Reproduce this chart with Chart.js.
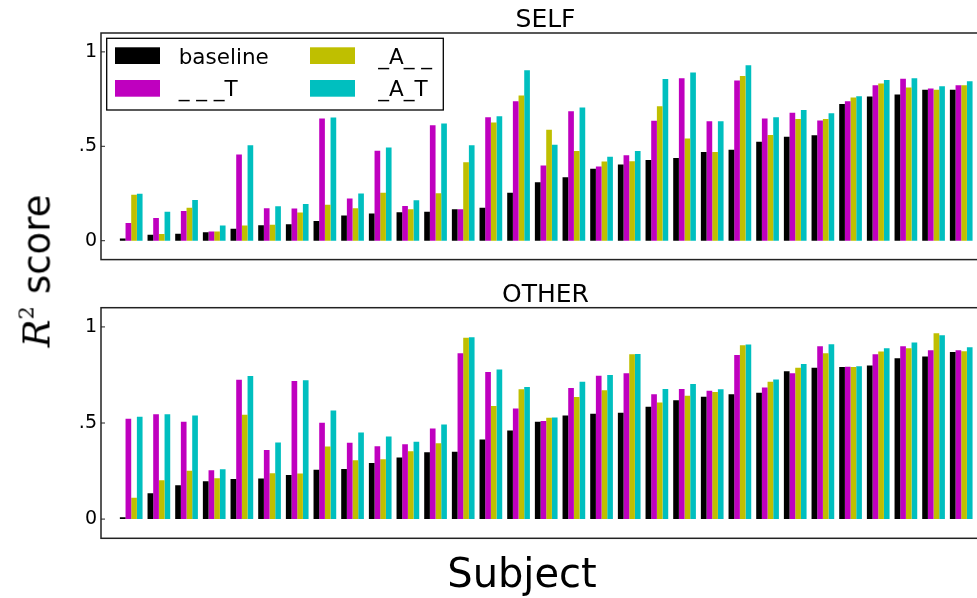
<!DOCTYPE html>
<html>
<head>
<meta charset="utf-8">
<script src="https://cdn.jsdelivr.net/npm/chart.js@4.4.1/dist/chart.umd.min.js"></script>
<style>
  html, body { margin: 0; padding: 0; background: #fff; overflow: hidden; width: 977px; height: 598px; }
  canvas { position: absolute; left: 0; }
  #self { top: 0; }
  #other { top: 280px; }
  #ylab {
    position: absolute; left: 37px; top: 271px;
    transform: translate(-50%, -50%) rotate(-90deg);
    font-family: "DejaVu Sans", sans-serif; font-size: 37px; line-height: 1;
    white-space: nowrap; color: #000;
  }
  #ylab .r { font-family: "DejaVu Serif", serif; font-style: italic; }
  #ylab .sup { font-family: "DejaVu Serif", serif; font-size: 21px; position: relative; top: -16px; }
  #ylab .word { margin-left: 12px; }
</style>
</head>
<body>
<canvas id="self" width="1000" height="275"></canvas>
<canvas id="other" width="1000" height="318"></canvas>
<div id="ylab"><span class="r">R</span><span class="sup">2</span><span class="word">score</span></div>
<script>
const subjects = [1, 2, 3, 4, 5, 6, 7, 8, 9, 10, 11, 12, 13, 14, 15, 16, 17, 18, 19, 20, 21, 22, 23, 24, 25, 26, 27, 28, 29, 30, 31];
const seriesLabels = ["baseline", "_ _ _T", "_A_ _", "_A_T"];
const seriesColors = ["#000000", "#bf00bf", "#bfbf00", "#00bfbf"];
const yTicks = [0, 0.5, 1];
const yTickLabels = ["0", ".5", "1"];

// SELF panel
const selfBaseline = [0.012, 0.031, 0.037, 0.045, 0.064, 0.082, 0.087, 0.104, 0.134, 0.144, 0.151, 0.153, 0.167, 0.174, 0.254, 0.31, 0.336, 0.381, 0.404, 0.428, 0.438, 0.47, 0.482, 0.524, 0.55, 0.558, 0.724, 0.764, 0.774, 0.8, 0.8];
const selfT = [0.094, 0.12, 0.158, 0.049, 0.456, 0.172, 0.17, 0.647, 0.223, 0.477, 0.184, 0.612, 0.167, 0.654, 0.738, 0.398, 0.685, 0.393, 0.452, 0.635, 0.861, 0.633, 0.849, 0.647, 0.678, 0.637, 0.739, 0.823, 0.858, 0.806, 0.823];
const selfA = [0.244, 0.035, 0.174, 0.049, 0.08, 0.085, 0.15, 0.19, 0.172, 0.254, 0.167, 0.251, 0.416, 0.626, 0.769, 0.588, 0.475, 0.419, 0.421, 0.712, 0.541, 0.47, 0.872, 0.56, 0.644, 0.645, 0.759, 0.833, 0.812, 0.8, 0.823];
const selfAT = [0.249, 0.153, 0.216, 0.08, 0.505, 0.183, 0.195, 0.652, 0.25, 0.494, 0.214, 0.621, 0.506, 0.659, 0.903, 0.508, 0.706, 0.444, 0.475, 0.856, 0.891, 0.633, 0.929, 0.654, 0.692, 0.675, 0.765, 0.851, 0.86, 0.818, 0.844];

// OTHER panel
const otherBaseline = [0.009, 0.134, 0.176, 0.197, 0.209, 0.211, 0.23, 0.257, 0.261, 0.292, 0.32, 0.348, 0.351, 0.414, 0.461, 0.506, 0.539, 0.548, 0.553, 0.585, 0.618, 0.637, 0.649, 0.658, 0.769, 0.788, 0.792, 0.799, 0.837, 0.846, 0.87];
const otherT = [0.522, 0.545, 0.506, 0.254, 0.725, 0.36, 0.718, 0.501, 0.397, 0.379, 0.39, 0.471, 0.863, 0.765, 0.576, 0.511, 0.682, 0.746, 0.759, 0.649, 0.677, 0.668, 0.854, 0.685, 0.759, 0.899, 0.793, 0.858, 0.899, 0.879, 0.879];
const otherA = [0.111, 0.202, 0.252, 0.212, 0.543, 0.238, 0.237, 0.378, 0.306, 0.311, 0.353, 0.395, 0.943, 0.588, 0.675, 0.527, 0.635, 0.67, 0.858, 0.607, 0.642, 0.661, 0.905, 0.715, 0.788, 0.863, 0.792, 0.872, 0.889, 0.967, 0.873];
const otherAT = [0.532, 0.545, 0.539, 0.259, 0.745, 0.398, 0.722, 0.565, 0.451, 0.43, 0.402, 0.492, 0.946, 0.778, 0.687, 0.529, 0.715, 0.75, 0.859, 0.677, 0.703, 0.675, 0.908, 0.727, 0.807, 0.91, 0.795, 0.889, 0.919, 0.957, 0.894];

Chart.defaults.font.family = "'DejaVu Sans', sans-serif";
Chart.defaults.color = "#000";

function makeDatasets(lists) {
  return lists.map((vals, k) => ({
    label: seriesLabels[k],
    data: vals.map((v, i) => ({ x: i, y: v })),
    backgroundColor: seriesColors[k],
    borderWidth: 0,
    categoryPercentage: 0.82,
    barPercentage: 1.0,
  }));
}

// frame, inward ticks, panel title, legend, x title
const frame = {
  id: "frame",
  afterDraw(chart, args, opts) {
    const ctx = chart.ctx;
    const a = chart.chartArea;
    ctx.save();
    ctx.strokeStyle = "#222";
    ctx.lineWidth = 1.5;
    ctx.strokeRect(a.left, a.top, a.right - a.left, a.bottom - a.top);
    ctx.lineWidth = 1;
    yTicks.forEach((v) => {
      const y = chart.scales.y.getPixelForValue(v);
      ctx.beginPath();
      ctx.moveTo(a.left, y);
      ctx.lineTo(a.left + 4, y);
      ctx.stroke();
    });

    ctx.fillStyle = "#000";
    ctx.textAlign = "center";
    ctx.textBaseline = "alphabetic";
    ctx.font = "25px 'DejaVu Sans'";
    ctx.fillText(opts.title, (a.left + a.right) / 2, a.top - 6);

    if (opts.xTitle) {
      ctx.font = "40px 'DejaVu Sans'";
      ctx.fillText(opts.xTitle, 522, 306.7);
    }

    if (opts.legend) {
      const lx = a.left + 5.7, ly = a.top + 5.3;
      ctx.fillStyle = "#fff";
      ctx.fillRect(lx, ly, 336.6, 71.7);
      ctx.strokeStyle = "#000";
      ctx.lineWidth = 1.3;
      ctx.strokeRect(lx, ly, 336.6, 71.7);
      const patchX = [lx + 8.3, lx + 203.3];
      const textX = [lx + 72, lx + 271.5];
      const patchY = [ly + 9, ly + 41.7];
      const baseY = [ly + 26, ly + 57.7];
      ctx.font = "21.5px 'DejaVu Sans'";
      ctx.textAlign = "left";
      chart.data.datasets.forEach((ds, k) => {
        const col = Math.floor(k / 2), row = k % 2;
        ctx.fillStyle = ds.backgroundColor;
        ctx.fillRect(patchX[col], patchY[row], 45, 16.7);
        ctx.fillStyle = "#000";
        ctx.fillText(ds.label, textX[col], baseY[row]);
      });
    }
    ctx.restore();
  },
};

function makeOptions(padding, frameOpts) {
  return {
    responsive: false,
    animation: false,
    devicePixelRatio: 1,
    layout: { padding: padding },
    plugins: {
      legend: { display: false },
      tooltip: { enabled: false },
      frame: frameOpts,
    },
    scales: {
      x: {
        type: "linear",
        display: false,
        offset: false,
        min: -1.092,
        max: 31.04,
      },
      y: {
        min: -0.1,
        max: 1.1,
        grid: { display: false, drawTicks: false },
        border: { display: false },
        afterFit: (s) => { s.width = 101; },
        afterBuildTicks: (s) => { s.ticks = yTicks.map((v) => ({ value: v })); },
        ticks: {
          padding: 4,
          font: { size: 19 },
          color: "#000",
          callback: (v) => yTickLabels[yTicks.indexOf(v)],
        },
      },
    },
  };
}

new Chart(document.getElementById("self"), {
  type: "bar",
  data: { labels: subjects, datasets: makeDatasets([selfBaseline, selfT, selfA, selfAT]) },
  options: makeOptions({ top: 33, bottom: 12.3, left: 0, right: 10 }, { title: "SELF", legend: true }),
  plugins: [frame],
});

new Chart(document.getElementById("other"), {
  type: "bar",
  data: { labels: subjects, datasets: makeDatasets([otherBaseline, otherT, otherA, otherAT]) },
  options: makeOptions({ top: 27.7, bottom: 59.7, left: 0, right: 10 }, { title: "OTHER", xTitle: "Subject" }),
  plugins: [frame],
});
</script>
</body>
</html>
